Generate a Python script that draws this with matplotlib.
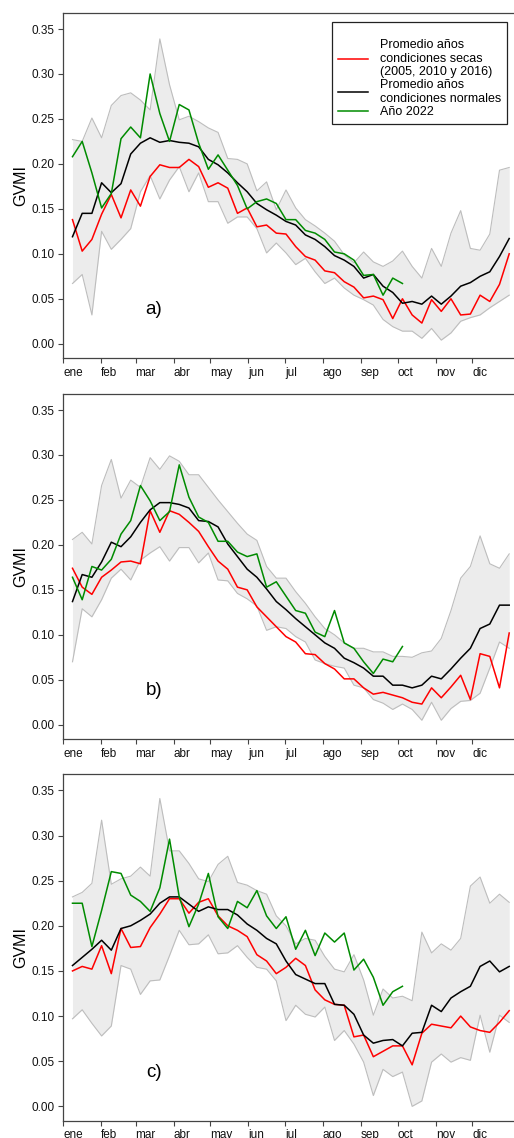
import numpy as np
import matplotlib
matplotlib.use("Agg")
import matplotlib.pyplot as plt
from matplotlib.ticker import FormatStrFormatter

plt.rcParams['font.family'] = ['Liberation Sans', 'DejaVu Sans']

#%% datos (compuestos de 8 dias, 46 por año)
dias = np.linspace(8.5, 365, 46)
dias_2022 = dias[:35]

meses = ["ene", "feb", "mar", "abr", "may", "jun",
         "jul", "ago", "sep", "oct", "nov", "dic"]
inicio_mes = [1, 32, 60, 91, 121, 152, 182, 213, 244, 274, 305, 335]

# a)
sup_a = [0.227, 0.225, 0.251, 0.229, 0.265, 0.276, 0.279, 0.271, 0.260, 0.339, 0.288, 0.249, 0.253, 0.247, 0.240, 0.235,
         0.206, 0.205, 0.200, 0.170, 0.180, 0.149, 0.171, 0.151, 0.138, 0.131, 0.123, 0.114, 0.099, 0.090, 0.102, 0.091,
         0.086, 0.092, 0.103, 0.086, 0.073, 0.106, 0.086, 0.123, 0.148, 0.106, 0.104, 0.122, 0.193, 0.196]
inf_a = [0.067, 0.077, 0.032, 0.125, 0.105, 0.116, 0.128, 0.169, 0.187, 0.161, 0.182, 0.197, 0.169, 0.190, 0.158, 0.158,
         0.134, 0.141, 0.141, 0.128, 0.101, 0.112, 0.101, 0.088, 0.095, 0.080, 0.067, 0.073, 0.062, 0.054, 0.049, 0.043,
         0.027, 0.019, 0.014, 0.014, 0.006, 0.017, 0.004, 0.012, 0.025, 0.029, 0.032, 0.040, 0.047, 0.054]
seca_a = [0.138, 0.103, 0.116, 0.144, 0.166, 0.140, 0.171, 0.153, 0.186, 0.199, 0.196, 0.196, 0.205, 0.197, 0.174, 0.179,
          0.173, 0.145, 0.151, 0.130, 0.132, 0.123, 0.122, 0.108, 0.097, 0.093, 0.081, 0.079, 0.069, 0.063, 0.051, 0.053,
          0.049, 0.028, 0.050, 0.032, 0.023, 0.049, 0.036, 0.050, 0.032, 0.033, 0.054, 0.047, 0.066, 0.100]
normal_a = [0.119, 0.145, 0.145, 0.179, 0.168, 0.178, 0.211, 0.223, 0.229, 0.224, 0.226, 0.224, 0.223, 0.219, 0.205, 0.199,
            0.190, 0.179, 0.169, 0.156, 0.149, 0.143, 0.136, 0.132, 0.121, 0.116, 0.108, 0.098, 0.093, 0.086, 0.073, 0.077,
            0.064, 0.057, 0.045, 0.047, 0.044, 0.053, 0.044, 0.053, 0.064, 0.068, 0.075, 0.080, 0.097, 0.117]
a2022_a = [0.208, 0.225, 0.190, 0.151, 0.167, 0.228, 0.241, 0.229, 0.300, 0.256, 0.225, 0.266, 0.260, 0.223, 0.194, 0.210,
           0.193, 0.176, 0.150, 0.158, 0.161, 0.156, 0.138, 0.138, 0.126, 0.123, 0.116, 0.102, 0.100, 0.093, 0.076, 0.077,
           0.054, 0.073, 0.067]

# b)
sup_b = [0.206, 0.214, 0.201, 0.266, 0.295, 0.252, 0.272, 0.264, 0.297, 0.284, 0.299, 0.293, 0.278, 0.278, 0.264, 0.250,
         0.237, 0.224, 0.212, 0.205, 0.176, 0.163, 0.163, 0.148, 0.135, 0.120, 0.107, 0.100, 0.091, 0.085, 0.085, 0.081,
         0.081, 0.076, 0.076, 0.075, 0.080, 0.082, 0.096, 0.127, 0.163, 0.176, 0.210, 0.179, 0.174, 0.190]
inf_b = [0.070, 0.129, 0.120, 0.139, 0.163, 0.173, 0.161, 0.183, 0.191, 0.198, 0.182, 0.197, 0.197, 0.180, 0.191, 0.161,
         0.160, 0.146, 0.140, 0.132, 0.105, 0.109, 0.107, 0.098, 0.092, 0.072, 0.068, 0.065, 0.063, 0.044, 0.041, 0.028,
         0.024, 0.017, 0.023, 0.017, 0.005, 0.025, 0.005, 0.018, 0.026, 0.027, 0.035, 0.063, 0.092, 0.085]
seca_b = [0.174, 0.153, 0.145, 0.164, 0.172, 0.181, 0.182, 0.179, 0.238, 0.214, 0.238, 0.234, 0.225, 0.215, 0.198, 0.182,
          0.173, 0.153, 0.150, 0.131, 0.120, 0.109, 0.098, 0.092, 0.079, 0.078, 0.068, 0.062, 0.051, 0.051, 0.041, 0.034,
          0.036, 0.033, 0.030, 0.025, 0.023, 0.041, 0.030, 0.042, 0.055, 0.028, 0.079, 0.076, 0.041, 0.102]
normal_b = [0.137, 0.167, 0.164, 0.181, 0.203, 0.198, 0.209, 0.225, 0.239, 0.247, 0.247, 0.245, 0.241, 0.227, 0.226, 0.220,
            0.201, 0.187, 0.173, 0.164, 0.151, 0.137, 0.128, 0.118, 0.109, 0.100, 0.091, 0.085, 0.074, 0.069, 0.063, 0.054,
            0.054, 0.044, 0.044, 0.041, 0.044, 0.054, 0.051, 0.062, 0.074, 0.085, 0.107, 0.112, 0.133, 0.133]
a2022_b = [0.164, 0.139, 0.176, 0.172, 0.184, 0.212, 0.227, 0.266, 0.249, 0.227, 0.237, 0.289, 0.253, 0.231, 0.225, 0.204,
           0.204, 0.192, 0.187, 0.190, 0.153, 0.159, 0.143, 0.127, 0.124, 0.103, 0.098, 0.127, 0.091, 0.085, 0.070, 0.057,
           0.073, 0.070, 0.087]

# c)
sup_c = [0.232, 0.237, 0.247, 0.317, 0.246, 0.252, 0.255, 0.265, 0.255, 0.341, 0.283, 0.283, 0.269, 0.252, 0.249, 0.268,
         0.277, 0.248, 0.245, 0.239, 0.235, 0.211, 0.200, 0.180, 0.186, 0.184, 0.166, 0.152, 0.149, 0.168, 0.140, 0.101,
         0.130, 0.120, 0.122, 0.117, 0.193, 0.170, 0.180, 0.173, 0.186, 0.244, 0.254, 0.225, 0.235, 0.226]
inf_c = [0.097, 0.107, 0.092, 0.078, 0.089, 0.156, 0.152, 0.124, 0.139, 0.140, 0.167, 0.195, 0.179, 0.180, 0.190, 0.169,
         0.170, 0.178, 0.165, 0.154, 0.152, 0.139, 0.095, 0.112, 0.102, 0.099, 0.110, 0.073, 0.084, 0.069, 0.049, 0.012,
         0.041, 0.033, 0.038, 0.000, 0.006, 0.049, 0.058, 0.049, 0.054, 0.051, 0.101, 0.060, 0.101, 0.093]
seca_c = [0.150, 0.155, 0.152, 0.178, 0.147, 0.197, 0.176, 0.177, 0.198, 0.213, 0.230, 0.230, 0.214, 0.226, 0.230, 0.211,
          0.200, 0.195, 0.188, 0.168, 0.161, 0.147, 0.154, 0.164, 0.156, 0.129, 0.118, 0.113, 0.112, 0.077, 0.079, 0.055,
          0.061, 0.067, 0.067, 0.046, 0.081, 0.091, 0.089, 0.087, 0.100, 0.088, 0.084, 0.082, 0.093, 0.106]
normal_c = [0.156, 0.165, 0.174, 0.184, 0.173, 0.197, 0.200, 0.206, 0.213, 0.225, 0.232, 0.232, 0.224, 0.216, 0.221, 0.218,
            0.218, 0.212, 0.202, 0.195, 0.186, 0.180, 0.161, 0.146, 0.141, 0.136, 0.136, 0.113, 0.112, 0.102, 0.079, 0.070,
            0.073, 0.074, 0.067, 0.081, 0.082, 0.112, 0.105, 0.120, 0.127, 0.133, 0.155, 0.161, 0.149, 0.155]
a2022_c = [0.225, 0.225, 0.177, 0.217, 0.260, 0.258, 0.234, 0.227, 0.216, 0.242, 0.296, 0.232, 0.199, 0.224, 0.258, 0.210,
           0.197, 0.227, 0.220, 0.239, 0.211, 0.197, 0.210, 0.174, 0.195, 0.167, 0.192, 0.182, 0.192, 0.151, 0.163, 0.143,
           0.112, 0.127, 0.133]

paneles = [("a)", sup_a, inf_a, seca_a, normal_a, a2022_a),
           ("b)", sup_b, inf_b, seca_b, normal_b, a2022_b),
           ("c)", sup_c, inf_c, seca_c, normal_c, a2022_c)]

etiquetas = ["Promedio años\ncondiciones secas\n(2005, 2010 y 2016)",
             "Promedio años\ncondiciones normales",
             "Año 2022"]

#%% figura
W, H = 514, 1138
fig = plt.figure(figsize=(W / 100, H / 100), dpi=100)

# (arriba, abajo) de cada panel en pixeles
limites = [(13, 358.3), (394, 739.3), (774.3, 1121)]
izq, ancho = 63.3, 460

gris_borde = "#444444"

for (letra, sup, inf, seca, normal, a2022), (top, bot) in zip(paneles, limites):
    ax = fig.add_axes([izq / W, 1 - bot / H, ancho / W, (bot - top) / H])

    ax.fill_between(dias, inf, sup, color="#ececec", lw=0, zorder=1)
    ax.plot(dias, sup, color="#bdbdbd", lw=0.8, zorder=2)
    ax.plot(dias, inf, color="#bdbdbd", lw=0.8, zorder=2)
    l1, = ax.plot(dias, seca, color="#ff0000", lw=1.1, zorder=3)
    l2, = ax.plot(dias, normal, color="black", lw=1.1, zorder=3)
    l3, = ax.plot(dias_2022, a2022, color="#008b00", lw=1.1, zorder=4)

    ax.set_xlim(1, 1 + ancho / 1.225)
    ax.set_ylim(-0.0162, 0.3678)
    ax.set_yticks(np.arange(0, 0.351, 0.05))
    ax.yaxis.set_major_formatter(FormatStrFormatter("%.2f"))
    ax.set_xticks(inicio_mes)
    ax.set_xticklabels(meses, ha="left")

    ax.tick_params(direction="out", length=3.5, width=0.8, color=gris_borde,
                   labelsize=8.5, pad=2.5, labelcolor="#111111")
    for s in ax.spines.values():
        s.set_color(gris_borde)
        s.set_linewidth(0.9)

    ax.set_ylabel("GVMI", fontsize=11.5)
    ax.yaxis.set_label_coords(-0.077, 0.5)
    ax.text(75, 0.038, letra, fontsize=13.5, ha="center", va="center")

    if letra == "a)":
        # titulo vacio para dejar el margen superior de la leyenda
        leg = ax.legend([l1, l2, l3], etiquetas, loc="upper right",
                        bbox_to_anchor=(506.7 / W, 1 - 22.3 / H), bbox_transform=fig.transFigure,
                        fontsize=9, title=" ", title_fontsize=7.5,
                        frameon=True, fancybox=False, framealpha=1,
                        edgecolor="#222222", borderpad=0.45, labelspacing=0.1,
                        handlelength=2.4, handletextpad=0.95, borderaxespad=0)
        leg.get_frame().set_linewidth(0.9)
        for t in leg.get_texts():
            t.set_linespacing(1.17)

fig.savefig("out.png", dpi=100)
